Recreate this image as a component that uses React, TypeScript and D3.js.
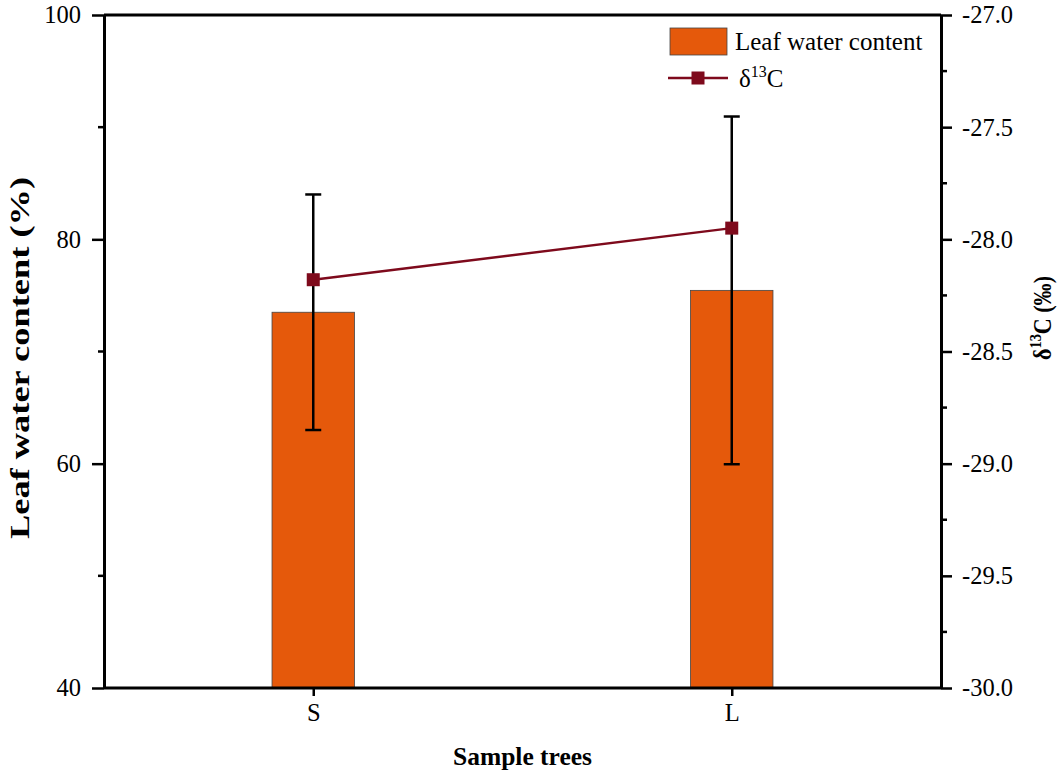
import { useEffect, useRef } from 'react';
import * as d3 from 'd3';

// sample trees
const categories = ['S', 'L'];
// leaf water content (%) with error
const waterContent = [73.5, 75.45];
const waterError = [10.5, 15.5];
// delta 13C (per mil)
const d13C = [-28.18, -27.95];

const leftTicks = [40, 60, 80, 100];
const rightTicks = [-30.0, -29.5, -29.0, -28.5, -28.0, -27.5, -27.0];

const App = () => {
  const ref = useRef<SVGSVGElement | null>(null);

  useEffect(() => {
    if (!ref.current) return;
    const root = d3.select(ref.current);
    root.selectAll('*').remove();

    const width = 1063;
    const height = 775;
    const margin = { top: 15, right: 122, bottom: 87, left: 104 };
    const innerW = width - margin.left - margin.right;
    const innerH = height - margin.top - margin.bottom;
    const font = '"Liberation Serif", "Times New Roman", serif';

    const g = root.append('g').attr('transform', `translate(${margin.left},${margin.top})`);

    const x = d3.scalePoint<string>().domain(categories).range([0, innerW]).padding(0.5);
    const yL = d3.scaleLinear().domain([40, 100]).range([innerH, 0]);
    const yR = d3.scaleLinear().domain([-30, -27]).range([innerH, 0]);
    const barW = x.step() * 0.197;

    // bars
    g.selectAll('rect.bar')
      .data(categories)
      .enter()
      .append('rect')
      .attr('x', d => (x(d) as number) - barW / 2)
      .attr('y', (_, i) => yL(waterContent[i]))
      .attr('width', barW)
      .attr('height', (_, i) => innerH - yL(waterContent[i]))
      .attr('fill', '#E5590B')
      .attr('stroke', '#444')
      .attr('stroke-width', 0.8);

    // error bars
    categories.forEach((c, i) => {
      const cx = x(c) as number;
      const top = yL(waterContent[i] + waterError[i]);
      const bot = yL(waterContent[i] - waterError[i]);
      g.append('line').attr('x1', cx).attr('x2', cx).attr('y1', top).attr('y2', bot)
        .attr('stroke', '#000').attr('stroke-width', 2.5);
      [top, bot].forEach(yy => {
        g.append('line').attr('x1', cx - 8).attr('x2', cx + 8).attr('y1', yy).attr('y2', yy)
          .attr('stroke', '#000').attr('stroke-width', 2.5);
      });
    });

    // delta 13C line
    const line = d3.line<number>()
      .x((_, i) => x(categories[i]) as number)
      .y(d => yR(d));
    g.append('path').datum(d13C).attr('d', line).attr('fill', 'none')
      .attr('stroke', '#7E0A1C').attr('stroke-width', 2.5);
    g.selectAll('rect.pt')
      .data(d13C)
      .enter()
      .append('rect')
      .attr('x', (_, i) => (x(categories[i]) as number) - 6.5)
      .attr('y', d => yR(d) - 6.5)
      .attr('width', 13)
      .attr('height', 13)
      .attr('fill', '#7E0A1C');

    const axisStyle = (sel: d3.Selection<SVGGElement, unknown, null, undefined>) => {
      sel.selectAll('path.domain').attr('stroke', '#000').attr('stroke-width', 3);
      sel.selectAll('.tick line').attr('stroke', '#000').attr('stroke-width', 2.5);
      sel.selectAll('text').attr('font-family', font).attr('font-size', 24.5).attr('fill', '#000');
    };

    // top frame line
    g.append('line').attr('x1', 0).attr('x2', innerW).attr('y1', 0).attr('y2', 0)
      .attr('stroke', '#000').attr('stroke-width', 3);

    // minor ticks
    const minorL = d3.range(50, 100, 20);
    g.selectAll('line.minL').data(minorL).enter().append('line')
      .attr('x1', -6).attr('x2', 0).attr('y1', d => yL(d)).attr('y2', d => yL(d))
      .attr('stroke', '#000').attr('stroke-width', 2.5);
    const minorR = d3.range(-29.75, -27, 0.5);
    g.selectAll('line.minR').data(minorR).enter().append('line')
      .attr('x1', innerW).attr('x2', innerW + 6).attr('y1', d => yR(d)).attr('y2', d => yR(d))
      .attr('stroke', '#000').attr('stroke-width', 2.5);

    const axL = g.append('g')
      .call(d3.axisLeft(yL).tickValues(leftTicks).tickSize(12).tickSizeOuter(0).tickPadding(11).tickFormat(d3.format('d')));
    axisStyle(axL);

    const axR = g.append('g').attr('transform', `translate(${innerW},0)`)
      .call(d3.axisRight(yR).tickValues(rightTicks).tickSize(11).tickSizeOuter(0).tickPadding(10).tickFormat(d3.format('.1f')));
    axisStyle(axR);
    axR.selectAll('text').text(d => d3.format('.1f')(d as number).replace('−', '-'));

    const axB = g.append('g').attr('transform', `translate(0,${innerH})`)
      .call(d3.axisBottom(x).tickSize(8).tickSizeOuter(0).tickPadding(8));
    axisStyle(axB);
    axB.select('path.domain').attr('d', `M0,0H${innerW}`);

    // axis titles
    root.append('text')
      .attr('transform', `translate(29,358) rotate(-90)`)
      .attr('text-anchor', 'middle')
      .attr('font-family', font).attr('font-weight', 'bold').attr('font-size', 28)
      .attr('textLength', 362).attr('lengthAdjust', 'spacingAndGlyphs')
      .text('Leaf water content (%)');

    const rt = root.append('text')
      .attr('transform', `translate(1051,318) rotate(-90)`)
      .attr('text-anchor', 'middle')
      .attr('font-family', font).attr('font-weight', 'bold').attr('font-size', 26);
    rt.append('tspan').text('δ');
    rt.append('tspan').attr('font-size', 17).attr('dy', -10).text('13');
    rt.append('tspan').attr('dy', 10).text('C (‰)');
    const rtLen = (rt.node() as SVGTextElement).getComputedTextLength();
    if (rtLen > 0) {
      rt.attr('transform', `translate(1051,318) rotate(-90) scale(${84 / rtLen},1)`);
    }

    root.append('text')
      .attr('x', margin.left + innerW / 2)
      .attr('y', 765)
      .attr('text-anchor', 'middle')
      .attr('font-family', font).attr('font-weight', 'bold').attr('font-size', 25.5)
      .text('Sample trees');

    // legend
    const lg = root.append('g').attr('transform', 'translate(670,28)');
    lg.append('rect').attr('width', 57).attr('height', 27)
      .attr('fill', '#E5590B').attr('stroke', '#444').attr('stroke-width', 0.8);
    lg.append('text').attr('x', 65).attr('y', 22)
      .attr('font-family', font).attr('font-size', 25).text('Leaf water content');
    lg.append('line').attr('x1', -2).attr('x2', 58).attr('y1', 50).attr('y2', 50)
      .attr('stroke', '#7E0A1C').attr('stroke-width', 2.5);
    lg.append('rect').attr('x', 21.5).attr('y', 43.5).attr('width', 13).attr('height', 13)
      .attr('fill', '#7E0A1C');
    const lt = lg.append('text').attr('x', 69).attr('y', 59)
      .attr('font-family', font).attr('font-size', 25);
    lt.append('tspan').text('δ');
    lt.append('tspan').attr('font-size', 16).attr('dy', -10).text('13');
    lt.append('tspan').attr('dy', 10).text('C');
  }, []);

  return (
    <svg ref={ref} width={1063} height={775}
      style={{ position: 'absolute', left: 0, top: 0, background: '#fff' }} />
  );
};

export default App;
